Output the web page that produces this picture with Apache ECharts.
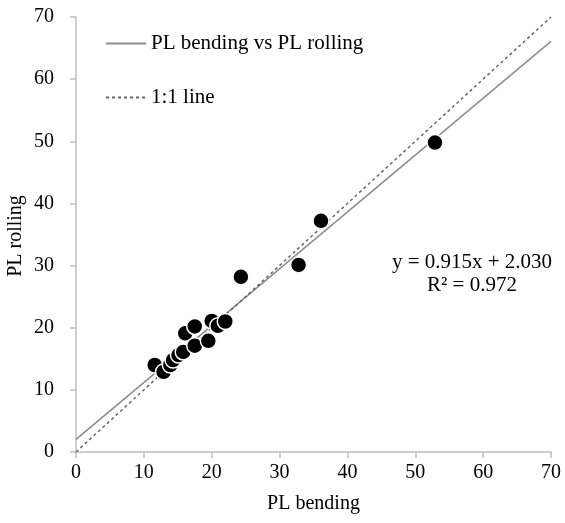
<!DOCTYPE html>
<html>
<head>
    <meta charset="utf-8">
    <script src="https://cdn.jsdelivr.net/npm/echarts@6/dist/echarts.min.js"></script>
</head>
<body style="margin:0">
    <div id="main" style="width: 565px;height:523px;"></div>
    <script type="text/javascript">
        // measured points: PL bending (x), PL rolling (y)
        var plBending = [11.6, 12.9, 13.9, 14.3, 15.1, 15.8, 16.1, 17.5, 17.5, 19.5, 20.0, 20.9, 22.0, 24.3, 32.8, 36.1, 52.9];
        var plRolling = [14.0, 12.9, 14.0, 14.8, 15.6, 16.1, 19.1, 17.1, 20.2, 17.9, 21.1, 20.3, 21.0, 28.2, 30.1, 37.2, 49.8];
        // trend line from the printed equation
        var slope = 0.915, intercept = 2.030;
        var lineX = [0, 70];
        var axisTicks = [0, 10, 20, 30, 40, 50, 60, 70];

        var points = plBending.map(function (x, i) { return [x, plRolling[i]]; });
        var trend = lineX.map(function (x) { return [x, slope * x + intercept]; });
        var oneToOne = lineX.map(function (x) { return [x, x]; });

        var font = 'Liberation Serif';
        var axisCommon = {
            type: 'value',
            min: axisTicks[0],
            max: axisTicks[axisTicks.length - 1],
            interval: 10,
            nameLocation: 'middle',
            nameTextStyle: { fontFamily: font, fontSize: 20, color: '#000' },
            axisLine: { show: true, lineStyle: { color: '#bfbfbf', width: 1.5 } },
            axisTick: { show: true, length: 6, lineStyle: { color: '#bfbfbf', width: 1.5 } },
            axisLabel: { fontFamily: font, fontSize: 20, color: '#000' },
            splitLine: { show: false }
        };

        var myChart = echarts.init(document.getElementById('main'));
        var option = {
            animation: false,
            grid: { left: 76, right: 14, top: 17, bottom: 71, containLabel: false, outerBoundsMode: 'none' },
            xAxis: Object.assign({}, axisCommon, { name: 'PL bending', nameGap: 42, axisLabel: Object.assign({}, axisCommon.axisLabel, { margin: 11 }) }),
            yAxis: Object.assign({}, axisCommon, { axisLabel: Object.assign({}, axisCommon.axisLabel, { margin: 22 }) }),
            legend: {
                orient: 'vertical',
                left: 100,
                top: 28,
                itemGap: 33,
                itemWidth: 40,
                itemHeight: 10,
                itemStyle: { opacity: 0 },
                textStyle: { fontFamily: font, fontSize: 21, color: '#000' },
                data: ['PL bending vs PL rolling', '1:1 line']
            },
            graphic: [{
                // y axis title
                type: 'text',
                x: 16,
                y: 236,
                rotation: Math.PI / 2,
                style: {
                    text: 'PL rolling',
                    fontFamily: font,
                    fontSize: 20,
                    align: 'center',
                    verticalAlign: 'middle',
                    fill: '#000'
                }
            }, {
                type: 'text',
                x: 472,
                y: 252,
                style: {
                    text: 'y = 0.915x + 2.030',
                    fontFamily: font,
                    fontSize: 21,
                    align: 'center',
                    fill: '#000'
                }
            }, {
                type: 'text',
                x: 472,
                y: 275,
                style: {
                    text: 'R² = 0.972',
                    fontFamily: font,
                    fontSize: 21,
                    align: 'center',
                    fill: '#000'
                }
            }],
            series: [
                {
                    name: 'PL bending vs PL rolling',
                    type: 'line',
                    data: trend,
                    showSymbol: false,
                    symbol: 'none',
                    lineStyle: { color: '#8c8c8c', width: 1.5 },
                    itemStyle: { color: '#8c8c8c' },
                    z: 1
                },
                {
                    name: '1:1 line',
                    type: 'line',
                    data: oneToOne,
                    showSymbol: false,
                    symbol: 'none',
                    lineStyle: { color: '#666', width: 1.5, type: [3, 3] },
                    itemStyle: { color: '#666' },
                    z: 1
                },
                {
                    name: 'data',
                    type: 'scatter',
                    data: points,
                    symbolSize: 16,
                    itemStyle: { color: '#000', borderColor: '#fff', borderWidth: 1.5, opacity: 1 },
                    z: 3
                }
            ]
        };
        myChart.setOption(option);
    </script>
</body>
</html>
